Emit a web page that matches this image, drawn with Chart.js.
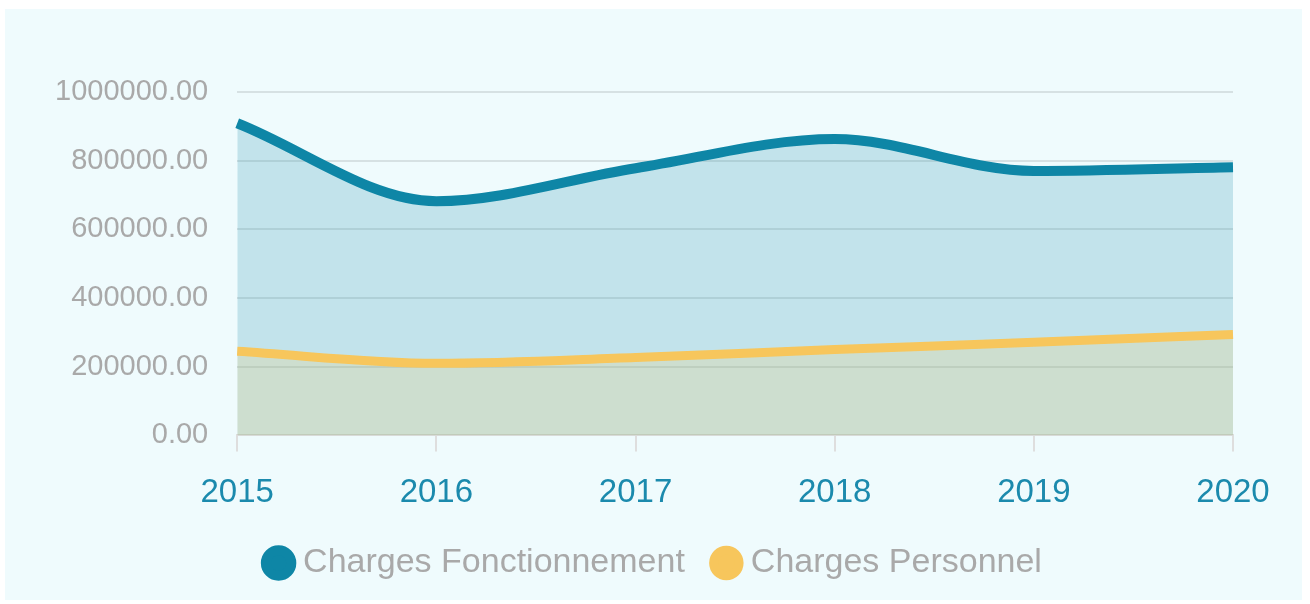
<!DOCTYPE html>
<html>
<head>
<meta charset="utf-8">
<script src="https://cdn.jsdelivr.net/npm/chart.js@4.4.1/dist/chart.umd.min.js"></script>
<style>
  body { margin: 0; background: #ffffff; }
  #wrap { position: absolute; left: 5px; top: 9px; width: 1297px; height: 591px; background: #effbfd; }
</style>
</head>
<body>
<div id="wrap"><canvas id="myChart"></canvas></div>
<script>
var years = ['2015', '2016', '2017', '2018', '2019', '2020'];
var chargesFonctionnement = [909000, 682000, 778000, 863000, 770000, 781000];
var chargesPersonnel = [245000, 210000, 227000, 250000, 271000, 294000];

var blue = 'rgb(14, 134, 166)';
var yellow = 'rgb(247, 198, 92)';

// nudge the legend to the right, it is not centred on the panel
var legendShift = {
    id: 'legendShift',
    afterLayout: function(chart) {
        chart.legend.left += 27;
        chart.legend.right += 27;
    }
};

var ctx = document.getElementById('myChart');
new Chart(ctx, {
    type: 'line',
    data: {
        labels: years,
        datasets: [{
            label: 'Charges Fonctionnement',
            data: chargesFonctionnement,
            borderColor: blue,
            backgroundColor: 'rgba(14, 134, 166, 0.2)',
            pointBackgroundColor: blue,
            pointBorderColor: blue,
            borderWidth: 10,
            pointRadius: 0,
            fill: 'origin',
            cubicInterpolationMode: 'monotone',
            order: 2
        }, {
            label: 'Charges Personnel',
            data: chargesPersonnel,
            borderColor: yellow,
            backgroundColor: 'rgba(247, 198, 92, 0.2)',
            pointBackgroundColor: yellow,
            pointBorderColor: yellow,
            borderWidth: 9,
            pointRadius: 0,
            fill: 'origin',
            cubicInterpolationMode: 'monotone',
            order: 1
        }]
    },
    options: {
        responsive: true,
        maintainAspectRatio: false,
        animation: false,
        layout: { padding: { top: 83, right: 69, bottom: 10, left: 21 } },
        plugins: {
            tooltip: { enabled: false },
            legend: {
                position: 'bottom',
                labels: {
                    usePointStyle: true,
                    pointStyle: 'circle',
                    boxWidth: 15,
                    boxHeight: 18,
                    padding: 34,
                    color: '#a9a9a9',
                    font: { family: 'Liberation Sans', size: 34 },
                    sort: function(a, b) { return a.datasetIndex - b.datasetIndex; }
                }
            }
        },
        scales: {
            x: {
                grid: { drawOnChartArea: false, drawTicks: true, tickLength: 16, color: '#dedede', lineWidth: 2 },
                border: { display: true, color: '#dedede', width: 2 },
                ticks: { color: '#1b8aad', padding: 22, maxRotation: 0, minRotation: 0, font: { family: 'Liberation Sans', size: 33 } },
                afterFit: function(scale) { scale.height -= 23; }
            },
            y: {
                min: 0,
                max: 1000000,
                grid: { drawTicks: false, color: 'rgba(0, 0, 0, 0.1)', lineWidth: 2 },
                border: { display: false },
                ticks: {
                    stepSize: 200000,
                    color: '#a9a9a9',
                    padding: 29,
                    font: { family: 'Liberation Sans', size: 29 },
                    callback: function(value) { return Number(value).toFixed(2); }
                }
            }
        }
    },
    plugins: [legendShift]
});
</script>
</body>
</html>
